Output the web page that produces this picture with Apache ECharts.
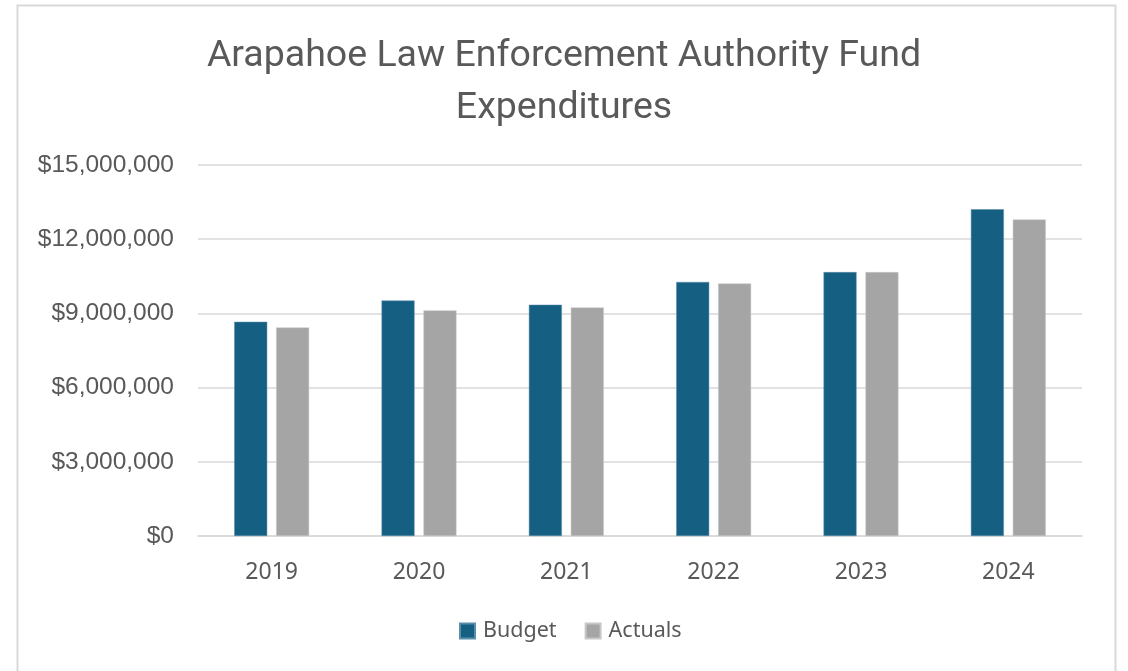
<!DOCTYPE html>
<html lang="en">
<head>
    <meta charset="UTF-8">
    <title>Fund Expenditures</title>
    <script src="https://cdn.jsdelivr.net/npm/echarts@6/dist/echarts.min.js"></script>
    <style>
        html, body { margin: 0; padding: 0; background: #fff; }
    </style>
</head>
<body>
    <div id="chart" style="width: 1128px;height:671px;"></div>

<script>
    // 年份与数据
    var years = ['2019', '2020', '2021', '2022', '2023', '2024'];
    var budget = [8660000, 9520000, 9350000, 10270000, 10670000, 13210000];
    var actuals = [8430000, 9120000, 9240000, 10210000, 10670000, 12800000];
    var yTicks = [0, 3000000, 6000000, 9000000, 12000000, 15000000];

    var myChart = echarts.init(document.getElementById('chart'));

    var option = {
        backgroundColor: '#fff',
        animation: false,
        graphic: [{
            type: 'rect',
            shape: {x: 17.5, y: 5.5, width: 1098, height: 700},
            style: {fill: 'none', stroke: '#d9d9d9', lineWidth: 2}
        }],
        title: {
            text: 'Arapahoe Law Enforcement Authority Fund\nExpenditures',
            left: 'center',
            top: 26,
            textStyle: {
                fontFamily: 'Liberation Sans Narrow, Roboto',
                fontWeight: 'normal',
                fontSize: 37.5,
                lineHeight: 52,
                color: '#595959'
            }
        },
        legend: {
            data: ['Budget', 'Actuals'],
            bottom: 24,
            left: 454,
            itemWidth: 15,
            itemHeight: 15,
            itemGap: 28,
            icon: 'rect',
            textStyle: {fontFamily: 'Noto Sans', fontSize: 21.5, color: '#595959', padding: [0, 0, 0, 3]}
        },
        grid: {left: 198, right: 46, top: 165, bottom: 135},
        xAxis: {
            type: 'category',
            data: years,
            axisLine: {lineStyle: {color: '#d9d9d9', width: 1.5}},
            axisTick: {show: false},
            axisLabel: {fontFamily: 'Noto Sans', fontSize: 23, color: '#595959', margin: 25}
        },
        yAxis: {
            type: 'value',
            min: yTicks[0],
            max: yTicks[yTicks.length - 1],
            interval: yTicks[1] - yTicks[0],
            axisLine: {show: false},
            axisTick: {show: false},
            splitLine: {lineStyle: {color: '#d9d9d9', width: 1.5}},
            axisLabel: {
                fontFamily: 'Liberation Sans',
                fontSize: 24.5,
                color: '#595959',
                margin: 24,
                formatter: function (v) { return '$' + v.toLocaleString('en-US'); }
            }
        },
        series: [
            {
                name: 'Budget',
                type: 'bar',
                data: budget,
                barWidth: 33,
                barGap: '27%',
                itemStyle: {color: '#156082', borderColor: '#5a8faa', borderWidth: 0.5}
            },
            {
                name: 'Actuals',
                type: 'bar',
                data: actuals,
                barWidth: 33,
                itemStyle: {color: '#a5a5a5', borderColor: '#c8c8c8', borderWidth: 0.5}
            }
        ]
    };

    myChart.setOption(option);
</script>
</body>
</html>
